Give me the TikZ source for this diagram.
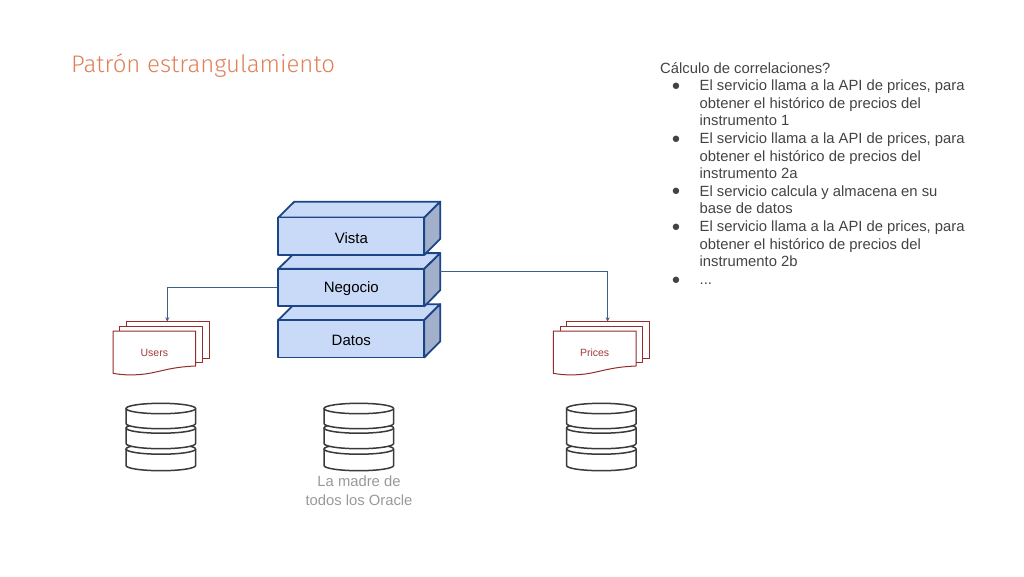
\documentclass[tikz,border=0pt]{standalone}
\usepackage{fontspec}
\setmainfont{Liberation Sans}
\newfontfamily\titlefont{Fira Sans Light}
\usetikzlibrary{arrows.meta}
\definecolor{titlec}{HTML}{E0805A}
\definecolor{bluel}{HTML}{C9DAF8}
\definecolor{blued}{HTML}{A2B0CC}
\definecolor{blueline}{HTML}{1C4587}
\definecolor{conn}{HTML}{3F6089}
\definecolor{docred}{HTML}{962B2B}
\definecolor{doctext}{HTML}{A23A3A}
\definecolor{dbline}{HTML}{3A3A3A}
\definecolor{textc}{HTML}{434343}
\definecolor{grayc}{HTML}{999999}
\tikzset{
 x=1pt,y=-1pt,
 layerbox/.style={draw=blueline,fill=bluel,line width=1.8pt,line join=round,minimum width=146pt,minimum height=37.5pt,inner sep=0pt,font=\fontsize{15}{17}\selectfont,text=black},
 layertop/.style={draw=blueline,fill=bluel,line width=1.8pt,line join=round},
 layerside/.style={draw=blueline,fill=blued,line width=1.8pt,line join=round},
 sheet/.style={draw=docred,fill=white,line width=1pt,line join=round},
 doclabel/.style={text=doctext,font=\fontsize{10.5}{12}\selectfont,inner sep=0pt},
 link/.style={draw=conn,line width=1pt,-{Stealth[length=4.5pt,width=4pt]}},
 disk/.style={draw=dbline,fill=white,line width=1.5pt,line join=round},
 bodytext/.style={text=textc,font=\fontsize{14.8}{17.6}\selectfont,align=left,anchor=north west,inner sep=0pt},
 bullet/.style={text=textc,font=\fontsize{14.8}{17.6}\selectfont,inner sep=0pt},
}
\newcommand{\layer}[3]{% name, front centre y, text
 \path[layertop] (278.3,#2-18.75) -- (294.3,#2-34.5) -- (440.3,#2-34.5) -- (424.3,#2-18.75) -- cycle;
 \path[layerside] (424.3,#2-18.75) -- (440.3,#2-34.5) -- (440.3,#2+2.5) -- (424.3,#2+18.75) -- cycle;
 \node[layerbox] (#1) at (351.3,#2) {\raisebox{-1.5pt}[\height][\depth]{#3}};
}
\newcommand{\docstack}[3]{% name, x offset, text
 \path[sheet] (#2+126,321.7) -- (#2+209,321.7) -- (#2+209,358) -- (#2+126,358) -- cycle;
 \path[sheet] (#2+119.7,326.3) -- (#2+202.3,326.3) -- (#2+202.3,362.7) -- (#2+119.7,362.7) -- cycle;
 \path[sheet] (#2+113,331) -- (#2+195.7,331) -- (#2+195.7,366) .. controls (#2+170,367) and (#2+160,372) .. (#2+145,374) .. controls (#2+132,375.5) and (#2+122,375) .. (#2+113,373.3) -- cycle;
 \node[doclabel] (#1) at (#2+154.3,352.5) {#3};
 \coordinate (#1top) at (#2+167.3,321.7);
}
\newcommand{\onedisk}[2]{% top centre y, side bottom y
 \path[disk] (0,#1) -- (0,#2) arc[start angle=180,end angle=0,x radius=34.8,y radius=5.2] -- (69.6,#1) -- cycle;
 \path[disk] (34.8,#1) ellipse[x radius=34.8,y radius=5.2];
}
\newcommand{\dbstack}[2]{% name, left x
 \begin{scope}[shift={(#2,0)}]
 \onedisk{449}{465.5}
 \onedisk{428}{443.5}
 \onedisk{408.5}{423.5}
 \end{scope}
 \coordinate (#1) at (#2+34.8,437);
}
\begin{document}
\begin{tikzpicture}
\useasboundingbox (0,0) rectangle (1024,576);
\node[anchor=base west,inner sep=0pt,text=titlec,font=\titlefont\fontsize{24}{28}\selectfont] (title) at (71,72) {Patrón estrangulamiento};
\layer{datos}{338.7}{Datos}
\layer{negocio}{287.6}{Negocio}
\layer{vista}{236.2}{Vista}
\coordinate (negocioR) at (440.3,271.5);
\docstack{users}{0}{Users}
\docstack{prices}{440.3}{Prices}
\draw[link] (negocio.west) -| (userstop);
\draw[link] (negocioR) -| (pricestop);
\dbstack{db1}{126}
\dbstack{db2}{324}
\dbstack{db3}{566.5}
\node[text=grayc,align=center,font=\fontsize{14.8}{18.2}\selectfont,inner sep=0pt,anchor=north] (madre) at (359,476) {La madre de\\todos los Oracle};
\node[bodytext] (head) at (660,62) {Cálculo de correlaciones?};
\foreach \n/\y in {b1/87,b2/140,b3/192,b4/228,b5/281}{\node[bullet,anchor=center] (\n) at (676,\y) {●};}
\node[bodytext] (t1) at (699.5,79.7) {El servicio llama a la API de prices, para\\obtener el histórico de precios del\\instrumento 1};
\node[bodytext] (t2) at (699.5,132.5) {El servicio llama a la API de prices, para\\obtener el histórico de precios del\\instrumento 2a};
\node[bodytext] (t3) at (699.5,185.3) {El servicio calcula y almacena en su\\base de datos};
\node[bodytext] (t4) at (699.5,220.5) {El servicio llama a la API de prices, para\\obtener el histórico de precios del\\instrumento 2b};
\node[bodytext] (t5) at (699.5,273.3) {\vphantom{l}...};
\end{tikzpicture}
\end{document}
